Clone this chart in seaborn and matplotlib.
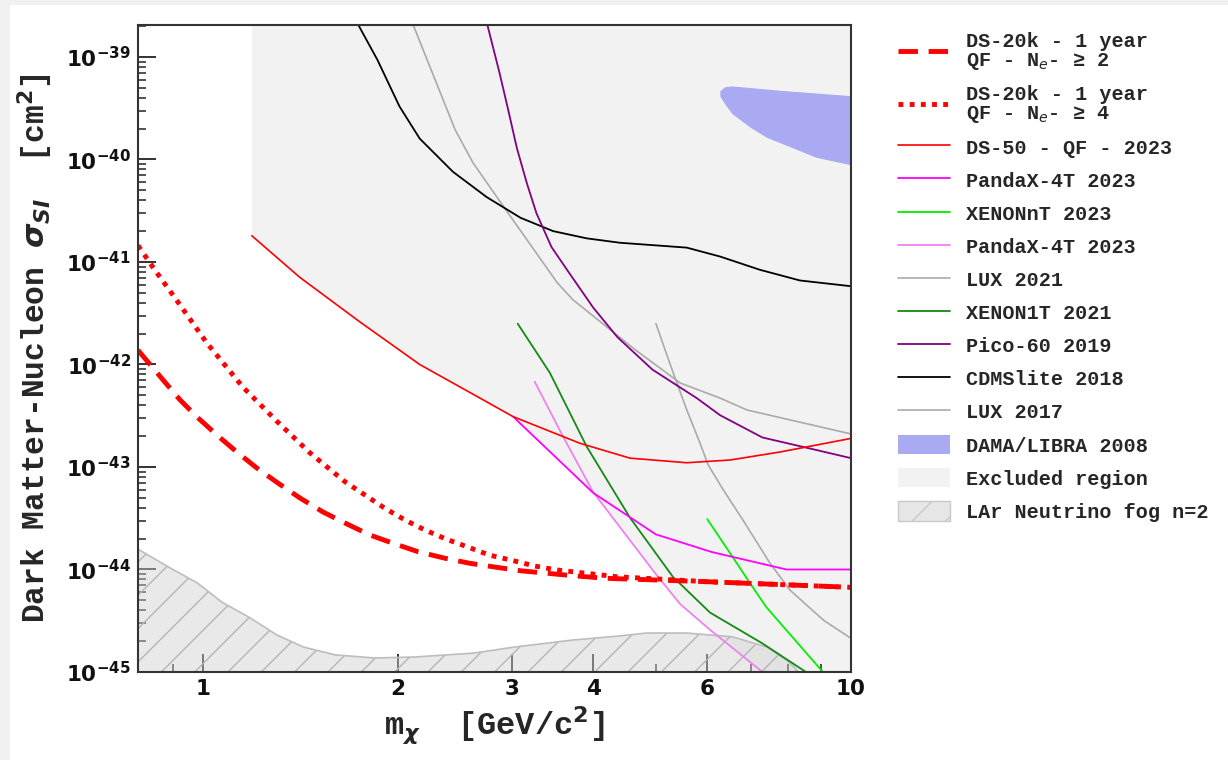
import numpy as np
import pandas as pd
import matplotlib
matplotlib.use("Agg")
import matplotlib.pyplot as plt
import seaborn as sns
from matplotlib.lines import Line2D
from matplotlib.patches import Patch, Rectangle
from matplotlib.ticker import FixedLocator, FuncFormatter, LogLocator, NullFormatter

# ---------------- data ----------------
ds20k_ne2_x = [0.794, 0.868, 0.922, 0.979, 1.051, 1.128, 1.211, 1.305, 1.411, 1.532, 1.668,
               1.81, 1.966, 2.148, 2.36, 2.58, 2.84, 3.10, 3.39, 3.72, 4.19, 6.0, 10.0]
ds20k_ne2_y = [1.38e-42, 7.06e-43, 4.51e-43, 3.08e-43, 2.05e-43, 1.40e-43, 9.77e-44, 6.98e-44,
               4.99e-44, 3.64e-44, 2.78e-44, 2.17e-44, 1.80e-44, 1.49e-44, 1.29e-44, 1.15e-44,
               1.05e-44, 9.7e-45, 9.2e-45, 8.7e-45, 8.2e-45, 7.6e-45, 6.7e-45]

ds20k_ne4_x = [0.794, 0.837, 0.922, 1.014, 1.153, 1.30, 1.463, 1.656, 1.778, 1.909, 2.05, 2.2,
               2.377, 2.567, 2.77, 3.012, 3.253, 3.514, 4.35, 6.0, 10.0]
ds20k_ne4_y = [1.45e-41, 8.9e-42, 3.8e-42, 1.62e-42, 6.0e-43, 2.8e-43, 1.37e-43, 7.19e-44,
               5.33e-44, 3.95e-44, 3.04e-44, 2.43e-44, 1.97e-44, 1.65e-44, 1.38e-44, 1.22e-44,
               1.08e-44, 9.9e-45, 8.5e-45, 7.6e-45, 6.7e-45]

ds50_x = [1.19, 1.41, 1.747, 2.16, 2.676, 3.01, 3.82, 4.56, 5.58, 6.51, 7.77, 10.0]
ds50_y = [1.8e-41, 7.1e-42, 2.6e-42, 1.0e-42, 4.7e-43, 3.1e-43, 1.7e-43, 1.22e-43,
          1.1e-43, 1.17e-43, 1.4e-43, 1.9e-43]

pandax_a_x = [3.01, 4.0, 5.0, 6.1, 7.95, 10.0]
pandax_a_y = [3.1e-43, 5.6e-44, 2.2e-44, 1.48e-44, 1.0e-44, 1.0e-44]

xenonnt_x = [6.0, 6.57, 6.98, 7.4, 9.05, 9.18]
xenonnt_y = [3.1e-44, 1.32e-44, 7.4e-45, 4.3e-45, 1.0e-45, 9.0e-46]

pandax_b_x = [3.25, 3.6, 4.0, 5.0, 5.45, 6.05, 7.3, 7.46]
pandax_b_y = [6.8e-43, 1.95e-43, 5.7e-44, 9.0e-45, 4.6e-45, 2.6e-45, 1.0e-45, 9.0e-46]

lux2021_x = [5.0, 5.32, 5.58, 5.85, 6.02, 6.35, 6.82, 7.5, 8.05, 9.07, 10.0]
lux2021_y = [2.5e-42, 8.2e-43, 3.6e-43, 1.7e-43, 1.05e-43, 6.0e-44, 3.0e-44, 1.15e-44,
             6.3e-45, 3.2e-45, 2.13e-45]

xenon1t_x = [3.06, 3.43, 3.91, 4.56, 5.31, 6.06, 7.3, 8.52, 8.7]
xenon1t_y = [2.5e-42, 8.3e-43, 1.58e-43, 3.2e-44, 8.5e-45, 3.8e-45, 1.9e-45, 1.0e-45, 9.0e-46]

pico60_x = [2.735, 2.87, 2.96, 3.05, 3.16, 3.27, 3.45, 3.68, 4.0, 4.36, 4.94, 5.78, 6.28,
            7.3, 8.7, 10.0]
pico60_y = [2.3e-39, 6.9e-40, 3.0e-40, 1.3e-40, 5.9e-41, 3.0e-41, 1.4e-41, 7.7e-42, 3.6e-42,
            1.85e-42, 8.9e-43, 4.7e-43, 3.2e-43, 1.94e-43, 1.5e-43, 1.22e-43]

cdmslite_x = [1.72, 1.86, 2.01, 2.16, 2.43, 2.74, 3.09, 3.47, 3.91, 4.4, 5.58, 6.28, 7.23, 8.34, 10.0]
cdmslite_y = [2.3e-39, 9.3e-40, 3.3e-40, 1.6e-40, 7.6e-41, 4.3e-41, 2.7e-41, 2.0e-41,
              1.7e-41, 1.54e-41, 1.38e-41, 1.13e-41, 8.4e-42, 6.6e-42, 5.8e-42]

lux2017_x = [2.09, 2.45, 2.61, 2.98, 3.52, 3.72, 4.64, 5.45, 6.28, 6.91, 10.0]
lux2017_y = [2.4e-39, 1.95e-40, 9.3e-41, 2.8e-41, 6.3e-42, 4.3e-42, 1.4e-42, 6.6e-43,
             4.7e-43, 3.6e-43, 2.1e-43]

dama_x = [6.30, 6.40, 6.55, 7.85, 10.0, 10.0, 8.86, 7.42, 6.98, 6.57, 6.42, 6.30]
dama_y = [4.6e-40, 5.0e-40, 5.1e-40, 4.6e-40, 4.1e-40, 8.9e-41, 1.05e-40, 1.65e-40,
          2.1e-40, 2.8e-40, 3.4e-40, 4.1e-40]

fog_x = [0.794, 0.889, 0.98, 1.07, 1.18, 1.30, 1.43, 1.60, 1.84, 2.12, 2.62, 3.02, 3.72,
         4.4, 4.84, 5.58, 6.57, 7.42, 7.96, 8.25, 8.35]
fog_y = [1.58e-44, 1.04e-44, 7.4e-45, 4.8e-45, 3.4e-45, 2.3e-45, 1.75e-45, 1.47e-45,
         1.37e-45, 1.4e-45, 1.53e-45, 1.75e-45, 2.05e-45, 2.25e-45, 2.4e-45, 2.4e-45,
         2.2e-45, 1.75e-45, 1.3e-45, 1.05e-45, 9.0e-46]

x_ticks = [1, 2, 3, 4, 6, 10]
x_tick_labels = ["1", "2", "3", "4", "6", "10"]
x_minor_ticks = [0.9, 5, 7, 8, 9]
y_exponents = [-45, -44, -43, -42, -41, -40, -39]

labels = [
    "DS-20k - 1 year\nQF - N$_{e}$- \u2265 2",
    "DS-20k - 1 year\nQF - N$_{e}$- \u2265 4",
    "DS-50 - QF - 2023",
    "PandaX-4T 2023",
    "XENONnT 2023",
    "PandaX-4T 2023",
    "LUX 2021",
    "XENON1T 2021",
    "Pico-60 2019",
    "CDMSlite 2018",
    "LUX 2017",
    "DAMA/LIBRA 2008",
    "Excluded region",
    "LAr Neutrino fog n=2",
]

# ---------------- style ----------------
sns.set_theme(style="ticks")
mono = ["Liberation Mono", "DejaVu Sans Mono"]
plt.rcParams["font.family"] = ["DejaVu Sans"]
plt.rcParams["hatch.color"] = "#b0b0b0"
plt.rcParams["hatch.linewidth"] = 1.0

fig = plt.figure(figsize=(12.28, 7.6), dpi=100)
fig.patch.set_facecolor("white")
fig.patches.append(Rectangle((0, 0), 10 / 1228, 1, transform=fig.transFigure,
                             facecolor="#f1f1f1", edgecolor="none", zorder=-10))
fig.patches.append(Rectangle((0, 1 - 5 / 760), 1, 5 / 760, transform=fig.transFigure,
                             facecolor="#f1f1f1", edgecolor="none", zorder=-10))

ax = fig.add_axes([138 / 1228, 88 / 760, (851 - 138) / 1228, (672 - 25) / 760])
ax.set_xscale("log")
ax.set_yscale("log")
XMIN, XMAX = 0.794, 10.0
YMIN, YMAX = 1e-45, 2.05e-39
ax.set_xlim(XMIN, XMAX)
ax.set_ylim(YMIN, YMAX)

# ---------------- excluded region (envelope of existing limits) ----------------
limits = [
    (ds50_x, ds50_y, False), (pandax_a_x, pandax_a_y, False), (xenonnt_x, xenonnt_y, True),
    (pandax_b_x, pandax_b_y, True), (lux2021_x, lux2021_y, False), (xenon1t_x, xenon1t_y, True),
    (pico60_x, pico60_y, False), (cdmslite_x, cdmslite_y, False), (lux2017_x, lux2017_y, False),
]
grid = np.logspace(np.log10(ds50_x[0]), np.log10(XMAX), 800)
lg = np.log10(grid)
env = np.full_like(grid, -37.0)
for xs, ys, exits in limits:
    v = np.interp(lg, np.log10(xs), np.log10(ys), left=np.inf,
                  right=(-46.0 if exits else np.inf))
    env = np.minimum(env, v)
ax.fill_between(grid, 10 ** env, 1e-37, facecolor="#f2f2f2", edgecolor="none", zorder=0)

# ---------------- neutrino fog ----------------
ax.fill_between(fog_x, 1e-46, fog_y, facecolor="#cfcfcf", alpha=0.45, edgecolor="none", zorder=1)
ax.fill_between(fog_x, 1e-46, fog_y, facecolor="none", hatch="/", edgecolor="#b5b5b5",
                linewidth=0, zorder=1.1)
sns.lineplot(x=fog_x, y=fog_y, ax=ax, color="#bdbdbd", lw=1.2, sort=False,
             estimator=None, legend=False, zorder=1.2)

# ---------------- DAMA ----------------
ax.fill(dama_x, dama_y, facecolor="#aaaaf3", edgecolor="#aaaaf3", lw=0.8, zorder=2)

# ---------------- curves ----------------
curves = [
    (lux2017_x, lux2017_y, "#aaaaaa", 1.2, "-"),
    (lux2021_x, lux2021_y, "#aaaaaa", 1.2, "-"),
    (cdmslite_x, cdmslite_y, "#000000", 1.3, "-"),
    (pico60_x, pico60_y, "#800080", 1.3, "-"),
    (xenon1t_x, xenon1t_y, "#138a13", 1.3, "-"),
    (pandax_b_x, pandax_b_y, "#ee82ee", 1.3, "-"),
    (xenonnt_x, xenonnt_y, "#00ee00", 1.3, "-"),
    (pandax_a_x, pandax_a_y, "#ff00ff", 1.3, "-"),
    (ds50_x, ds50_y, "#ff0000", 1.2, "-"),
    (ds20k_ne4_x, ds20k_ne4_y, "#ff0000", 3.5, (0, (1, 1.3))),
    (ds20k_ne2_x, ds20k_ne2_y, "#ff0000", 3.5, (0, (4, 2.2))),
]
for xs, ys, c, w, ls in curves:
    sns.lineplot(x=xs, y=ys, ax=ax, color=c, lw=w, linestyle=ls, sort=False,
                 estimator=None, legend=False, zorder=3)

# ---------------- axes, ticks ----------------
for s in ax.spines.values():
    s.set_linewidth(1.5)
    s.set_color("#333333")
    s.set_zorder(5)

ax.xaxis.set_major_locator(FixedLocator(x_ticks))
ax.xaxis.set_major_formatter(FuncFormatter(lambda v, p: x_tick_labels[x_ticks.index(round(v))]
                                           if round(v) in x_ticks else ""))
ax.xaxis.set_minor_locator(FixedLocator(x_minor_ticks))
ax.xaxis.set_minor_formatter(NullFormatter())

ax.yaxis.set_major_locator(FixedLocator([10.0 ** e for e in y_exponents]))
ax.yaxis.set_major_formatter(FuncFormatter(
    lambda v, p: r"$\mathbf{10^{%d}}$" % int(round(np.log10(v)))))
ax.yaxis.set_minor_locator(LogLocator(base=10, subs=np.arange(2, 10), numticks=20))
ax.yaxis.set_minor_formatter(NullFormatter())

ax.tick_params(which="major", direction="in", length=13, width=1.3, color="#222222",
               labelsize=15.5, pad=5, top=False, right=False)
ax.tick_params(which="minor", direction="in", length=5.5, width=1.1, color="#222222",
               top=False, right=False)
for t in ax.get_xticklabels() + ax.get_yticklabels():
    t.set_fontweight("bold")
    t.set_color("#111111")

ax.set_xlabel(r"m$_{\mathbfit{\chi}}$  [GeV/c$^{\mathbf{2}}$]", family=mono,
              fontweight="bold", fontsize=23, labelpad=8)
ax.set_ylabel(r"Dark Matter-Nucleon $\mathbfit{\sigma}_{\mathbfit{SI}}$  [cm$^{\mathbf{2}}$]",
              family=mono, fontweight="bold", fontsize=22.5, labelpad=10)
ax.xaxis.set_label_coords(0.5, -0.05)
ax.yaxis.set_label_coords(-0.116, 0.5)

# ---------------- legend ----------------
handles = [
    Line2D([], [], color="#ff0000", lw=3.5, linestyle=(0, (4, 2.2))),
    Line2D([], [], color="#ff0000", lw=3.5, linestyle=(0, (1, 1.3))),
    Line2D([], [], color="#ff0000", lw=1.2),
    Line2D([], [], color="#ff00ff", lw=1.3),
    Line2D([], [], color="#00ee00", lw=1.3),
    Line2D([], [], color="#ee82ee", lw=1.3),
    Line2D([], [], color="#aaaaaa", lw=1.2),
    Line2D([], [], color="#138a13", lw=1.3),
    Line2D([], [], color="#800080", lw=1.3),
    Line2D([], [], color="#000000", lw=1.3),
    Line2D([], [], color="#aaaaaa", lw=1.2),
    Patch(facecolor="#aaaaf3", edgecolor="none"),
    Patch(facecolor="#f2f2f2", edgecolor="none"),
    Patch(facecolor="#e6e6e6", edgecolor="#c8c8c8", hatch="/", lw=1.0),
]
leg = fig.legend(handles, labels, loc="upper left", bbox_to_anchor=(0.731, 0.958),
                 frameon=False, prop={"family": mono, "weight": "bold", "size": 14.5},
                 handlelength=2.6, handleheight=1.1, handletextpad=0.8, labelspacing=0.625,
                 borderaxespad=0, borderpad=0)
for t in leg.get_texts():
    t.set_linespacing(1.0)

fig.savefig("out.png", dpi=100)
